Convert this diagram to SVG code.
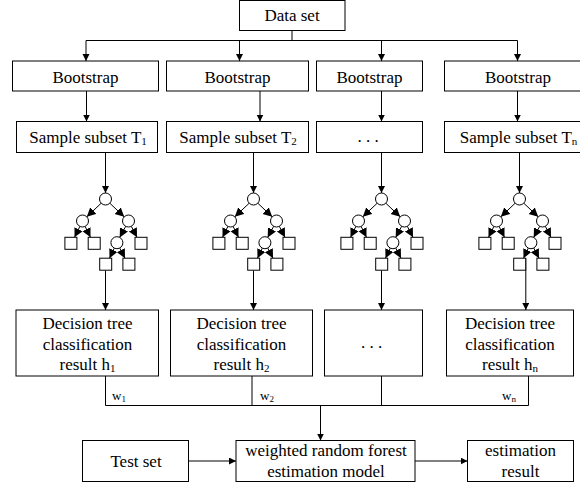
<svg xmlns="http://www.w3.org/2000/svg" width="580" height="486" viewBox="0 0 580 486">
<defs>
<style>
.box{fill:#fff;stroke:#000;stroke-width:1}
.t{font-size:17px;text-anchor:middle;fill:#000}
.w{font-size:13px;fill:#000}
.c{fill:none;stroke:#000;stroke-width:1}
.ca{fill:none;stroke:#000;stroke-width:1;marker-end:url(#ah)}
.te{fill:none;stroke:#000;stroke-width:1;marker-end:url(#th)}
.nd{fill:#fff;stroke:#000;stroke-width:1}
</style>
<marker id="ah" markerUnits="userSpaceOnUse" markerWidth="8" markerHeight="8" refX="7" refY="3.5" orient="auto"><path d="M0,0 L7,3.5 L0,7 z" fill="#000"/></marker>
<marker id="th" markerUnits="userSpaceOnUse" markerWidth="10" markerHeight="10" refX="9" refY="4.5" orient="auto"><path d="M0,0 L9,4.5 L0,9 z" fill="#000"/></marker>
<g id="tree">
<line class="te" x1="-4.3" y1="4.2" x2="-18.7" y2="17.8"/>
<line class="te" x1="4.3" y1="4.2" x2="18.7" y2="17.8"/>
<line class="te" x1="-25.6" y1="27.4" x2="-31" y2="38.3"/>
<line class="te" x1="-20.4" y1="27.4" x2="-15" y2="38.3"/>
<line class="te" x1="20.2" y1="27.3" x2="14.2" y2="38.4"/>
<line class="te" x1="25.8" y1="27.3" x2="31.5" y2="38.3"/>
<line class="te" x1="8.8" y1="49.1" x2="4" y2="59.2"/>
<line class="te" x1="14.2" y1="49" x2="19.5" y2="59.2"/>
<circle class="nd" cx="0" cy="0" r="6"/>
<circle class="nd" cx="-23" cy="22" r="6"/>
<circle class="nd" cx="23" cy="22" r="6"/>
<circle class="nd" cx="11.4" cy="43.7" r="6"/>
<rect class="nd" x="-40.6" y="38.3" width="12" height="12"/>
<rect class="nd" x="-17.3" y="38.3" width="12" height="12"/>
<rect class="nd" x="29.5" y="38.3" width="12" height="12"/>
<rect class="nd" x="-5.8" y="59.2" width="12" height="12"/>
<rect class="nd" x="17.4" y="59.2" width="12" height="12"/>
</g>
</defs>
<g font-family="Liberation Serif, DejaVu Serif, serif">
<g id="connectors">
<polyline class="c" points="292,30.5 292,40.5"/>
<line class="c" x1="86" y1="40.5" x2="517.5" y2="40.5"/>
<line class="ca" x1="86" y1="40.5" x2="86" y2="61"/>
<line class="ca" x1="239.5" y1="40.5" x2="239.5" y2="61"/>
<line class="ca" x1="381.5" y1="40.5" x2="381.5" y2="61"/>
<line class="ca" x1="517.5" y1="40.5" x2="517.5" y2="61"/>
<line class="ca" x1="86.5" y1="91" x2="86.5" y2="121.5"/>
<line class="ca" x1="260" y1="91" x2="260" y2="121.5"/>
<line class="ca" x1="381.5" y1="91" x2="381.5" y2="121.5"/>
<line class="ca" x1="517.5" y1="91" x2="517.5" y2="121.5"/>
<line class="ca" x1="105.5" y1="152.5" x2="105.5" y2="193"/>
<line class="ca" x1="253.5" y1="152.5" x2="253.5" y2="193"/>
<line class="ca" x1="381.5" y1="152.5" x2="381.5" y2="193"/>
<line class="ca" x1="519.5" y1="152.5" x2="519.5" y2="193"/>
<line class="ca" x1="105.5" y1="270.5" x2="105.5" y2="310"/>
<line class="ca" x1="253.5" y1="270.5" x2="253.5" y2="310"/>
<line class="ca" x1="381.5" y1="270.5" x2="381.5" y2="310"/>
<line class="ca" x1="525.8" y1="258.5" x2="525.8" y2="310"/>
<line class="c" x1="105.5" y1="376" x2="105.5" y2="405.5"/>
<line class="c" x1="252" y1="376" x2="252" y2="405.5"/>
<line class="c" x1="381.5" y1="376" x2="381.5" y2="405.5"/>
<line class="c" x1="528.5" y1="376" x2="528.5" y2="405.5"/>
<line class="c" x1="105.5" y1="405.5" x2="528.5" y2="405.5"/>
<line class="ca" x1="320.5" y1="405.5" x2="320.5" y2="440.5"/>
<line class="ca" x1="188.5" y1="461" x2="236" y2="461"/>
<line class="ca" x1="415" y1="461" x2="467.5" y2="461"/>
<text class="w" x="112" y="400">w<tspan font-size="9" dy="2">1</tspan></text>
<text class="w" x="260" y="400">w<tspan font-size="9" dy="2">2</tspan></text>
<text class="w" x="502" y="400">w<tspan font-size="9" dy="2">n</tspan></text>
</g>

<g id="dataset"><rect class="box" x="239.5" y="0.5" width="105.5" height="30"/><text class="t" x="292" y="20.5">Data set</text></g>

<g id="bootstrap1"><rect class="box" x="12.5" y="61" width="146" height="30"/><text class="t" x="85.5" y="82.5">Bootstrap</text></g>
<g id="bootstrap2"><rect class="box" x="166.5" y="61" width="142" height="30"/><text class="t" x="237.5" y="82.5">Bootstrap</text></g>
<g id="bootstrap3"><rect class="box" x="316.5" y="61" width="106" height="30"/><text class="t" x="369.5" y="82.5">Bootstrap</text></g>
<g id="bootstrap4"><rect class="box" x="444.5" y="61" width="147" height="30"/><text class="t" x="518" y="82.5">Bootstrap</text></g>

<g id="subset1"><rect class="box" x="16.5" y="121.5" width="141" height="31"/><text class="t" x="88" y="143.3">Sample subset T<tspan font-size="11" dy="1.5">1</tspan></text></g>
<g id="subset2"><rect class="box" x="166.5" y="121.5" width="142" height="31"/><text class="t" x="238" y="143.3">Sample subset T<tspan font-size="11" dy="1.5">2</tspan></text></g>
<g id="subset3"><rect class="box" x="316.5" y="121.5" width="106" height="31"/><text class="t" x="368" y="142">. . .</text></g>
<g id="subset4"><rect class="box" x="444.5" y="121.5" width="147" height="31"/><text class="t" x="518.5" y="143.3">Sample subset T<tspan font-size="11" dy="1.5">n</tspan></text></g>

<g id="tree1"><use href="#tree" x="105.5" y="199"/></g>
<g id="tree2"><use href="#tree" x="253.5" y="199"/></g>
<g id="tree3"><use href="#tree" x="381.5" y="199"/></g>
<g id="tree4"><use href="#tree" x="519.5" y="199"/></g>

<g id="result1"><rect class="box" x="16" y="310" width="142.5" height="66"/>
<text class="t" x="87.5" y="328.5">Decision tree</text><text class="t" x="87.5" y="349.5">classification</text><text class="t" x="87.5" y="370">result h<tspan font-size="11" dy="1.5">1</tspan></text></g>
<g id="result2"><rect class="box" x="170.5" y="310" width="142" height="66"/>
<text class="t" x="241.5" y="328.5">Decision tree</text><text class="t" x="241.5" y="349.5">classification</text><text class="t" x="241.5" y="370">result h<tspan font-size="11" dy="1.5">2</tspan></text></g>
<g id="result3"><rect class="box" x="324.5" y="310" width="98" height="66"/><text class="t" x="371.5" y="348">. . .</text></g>
<g id="result4"><rect class="box" x="446.5" y="310" width="127" height="66"/>
<text class="t" x="510" y="328.5">Decision tree</text><text class="t" x="510" y="349.5">classification</text><text class="t" x="510" y="370">result h<tspan font-size="11" dy="1.5">n</tspan></text></g>

<g id="testset"><rect class="box" x="82.5" y="440.5" width="106" height="41"/><text class="t" x="136" y="466.5">Test set</text></g>
<g id="model"><rect class="box" x="236" y="440.5" width="179" height="41"/><text class="t" x="326" y="456">weighted random forest</text><text class="t" x="326" y="476.5">estimation model</text></g>
<g id="estimation"><rect class="box" x="467.5" y="440.5" width="106" height="41"/><text class="t" x="520.5" y="456">estimation</text><text class="t" x="520.5" y="476.5">result</text></g>
</g>
</svg>
